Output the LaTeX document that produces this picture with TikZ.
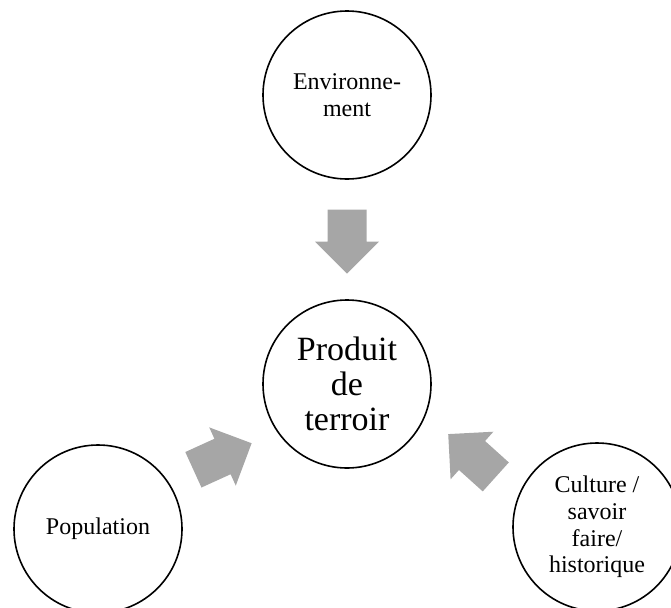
\documentclass[tikz,border=0pt]{standalone}
\usepackage{fontspec}
\setmainfont{Liberation Serif}
\usetikzlibrary{positioning,calc}
\definecolor{arrowgray}{HTML}{A6A6A6}
\tikzset{
	factor/.style={circle,draw,line width=1.2pt,minimum size=126pt,inner sep=0pt,
		align=center,font=\fontsize{18}{20}\selectfont},
	bigarrow/.pic={
		\fill[arrowgray] (-32,-19.5) -- (0,-19.5) -- (0,-32) -- (32,0)
		-- (0,32) -- (0,19.5) -- (-32,19.5) -- cycle;
	}
}
\begin{document}
\begin{tikzpicture}[x=0.75pt,y=-0.75pt]
		\useasboundingbox[clip] (0,0) rectangle (671,607);
		\node[factor] (env) at (347,95) {Environne-\\ment};
		\node[factor,font=\fontsize{25.5}{26.5}\selectfont] (prod) at (347,384) {Produit\\de\\terroir};
		\node[factor] (pop) at (98,529) {Population};
		\node[factor] (cult) at (597,527) {Culture /\\savoir\\faire/\\historique};
		% fleches vers le centre
		\pic[rotate=-90] at ($(env)!0.5!(prod)+(0,2)$) {bigarrow};
		\pic[rotate=24.5] at ($(pop)!0.5!(prod)$) {bigarrow};
		\pic[rotate=138] at ($(cult)!0.5!(prod)$) {bigarrow};
	\end{tikzpicture}
\end{document}
